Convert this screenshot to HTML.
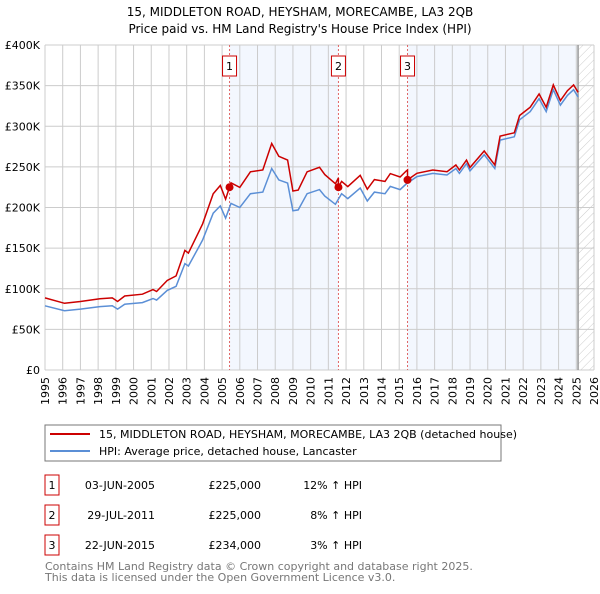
<!DOCTYPE html>
<html><head><meta charset="utf-8"><style>
body{margin:0;background:#fff;font-family:"DejaVu Sans","Liberation Sans",sans-serif;}
svg text{font-family:"DejaVu Sans","Liberation Sans",sans-serif;}
</style></head><body>
<svg id="c" width="600" height="590" xmlns="http://www.w3.org/2000/svg">
<defs><pattern id="hatch" width="6" height="6" patternUnits="userSpaceOnUse" patternTransform="rotate(45)"><line x1="0" y1="0" x2="0" y2="6" stroke="#ccc" stroke-width="1"/></pattern></defs>
<text x="300" y="16" text-anchor="middle" font-size="12">15, MIDDLETON ROAD, HEYSHAM, MORECAMBE, LA3 2QB</text>
<text x="300" y="33" text-anchor="middle" font-size="12">Price paid vs. HM Land Registry's House Price Index (HPI)</text>
<g id="plot"></g>
<rect x="45" y="425" width="456" height="36" fill="#fff" stroke="#777"/>
<line x1="50" y1="434" x2="90" y2="434" stroke="#cc0000" stroke-width="2"/>
<text x="99" y="438" font-size="11">15, MIDDLETON ROAD, HEYSHAM, MORECAMBE, LA3 2QB (detached house)</text>
<line x1="50" y1="451" x2="90" y2="451" stroke="#5b8fd6" stroke-width="2"/>
<text x="99" y="455" font-size="11">HPI: Average price, detached house, Lancaster</text>
<g id="table" font-size="11"></g>
<text x="45" y="570" font-size="11" fill="#777">Contains HM Land Registry data © Crown copyright and database right 2025.</text>
<text x="45" y="581" font-size="11" fill="#777">This data is licensed under the Open Government Licence v3.0.</text>
</svg>
<script>
const hpiYears=[1995,1996.1,1997,1998.1,1998.8,1999.1,1999.5,2000.5,2001.1,2001.3,2001.9,2002.4,2002.9,2003.1,2003.7,2003.9,2004.5,2004.9,2005.2,2005.5,2006,2006.6,2007.3,2007.8,2008.2,2008.7,2009,2009.3,2009.8,2010.5,2010.8,2011.4,2011.75,2012.1,2012.8,2013.2,2013.6,2014.2,2014.5,2015.05,2015.4,2016,2016.9,2017.7,2018.2,2018.4,2018.8,2019,2019.8,2020.4,2020.7,2021.5,2021.8,2022.4,2022.9,2023.3,2023.7,2024.1,2024.5,2024.85,2025.1];
const hpiValues=[79,73,75,78,79,75,81,83,88,86,98,103,131,128,152,160,193,202,187,205,200,217,219,248,234,230,196,197,217,222,214,204,217,211,224,208,219,217,226,222,229,238,242,240,248,242,254,245,265,248,283,287,308,318,334,318,345,326,338,345,336];
const saleYears=[2005.42,2011.57,2015.47];
const salePrices=[225,225,234];
const saleLabels=["1","2","3"];
const saleDates=["03-JUN-2005","29-JUL-2011","22-JUN-2015"];
const salePriceText=["£225,000","£225,000","£234,000"];
const saleHpiText=["12% ↑ HPI","8% ↑ HPI","3% ↑ HPI"];
const yTicks=[0,50,100,150,200,250,300,350,400];
const yTickLabels=["£0","£50K","£100K","£150K","£200K","£250K","£300K","£350K","£400K"];
const xTicks=[];for(let y=1995;y<=2026;y++)xTicks.push(y);

const L=45,R=594,T=45,B=370,NS="http://www.w3.org/2000/svg";
const xs=y=>L+(y-1995)/(2026-1995)*(R-L);
const ys=v=>B-v/400*(B-T);
const g=document.getElementById('plot');
function mk(tag,at,parent){const e=document.createElementNS(NS,tag);for(const k in at)e.setAttribute(k,at[k]);(parent||g).appendChild(e);return e;}
function hpiAt(t){if(t<=hpiYears[0])return hpiValues[0];for(let i=1;i<hpiYears.length;i++){if(t<=hpiYears[i]){const f=(t-hpiYears[i-1])/(hpiYears[i]-hpiYears[i-1]);return hpiValues[i-1]+f*(hpiValues[i]-hpiValues[i-1]);}}return hpiValues[hpiValues.length-1];}
const lastYear=hpiYears[hpiYears.length-1];
// shading
let e=mk('rect',{x:xs(saleYears[0]),y:T,width:xs(saleYears[1])-xs(saleYears[0]),height:B-T,fill:'#f3f7fe'});

e=mk('rect',{x:xs(saleYears[2]),y:T,width:xs(lastYear)-xs(saleYears[2]),height:B-T,fill:'#f3f7fe'});

e=mk('rect',{x:xs(lastYear),y:T,width:R-xs(lastYear),height:B-T,fill:'url(#hatch)'});

// grid
yTicks.forEach((v,i)=>{
 let l=mk('line',{x1:L,x2:R,y1:ys(v),y2:ys(v),stroke:'#ccc'});
 
 let t=mk('text',{x:40,y:ys(v)+4,'text-anchor':'end','font-size':11});t.textContent=yTickLabels[i];
 
});
xTicks.forEach(y=>{
 let l=mk('line',{x1:xs(y),x2:xs(y),y1:T,y2:B,stroke:'#ccc'});
 
 let t=mk('text',{x:xs(y)+4,y:377,'text-anchor':'end','font-size':11,transform:`rotate(-90 ${xs(y)+4} 377)`});t.textContent=y;
 
});
e=mk('line',{x1:xs(lastYear),x2:xs(lastYear),y1:T,y2:B,stroke:'#999','stroke-width':1.5});

// sale markers lines
saleYears.forEach((s,i)=>{
 let l=mk('line',{x1:xs(s),x2:xs(s),y1:T,y2:B,stroke:'#e06666','stroke-dasharray':'2,2'});
 
 let r=mk('rect',{x:xs(s)-7,y:56,width:14,height:20,fill:'#fff',stroke:'#cc0000'});
 
 let t=mk('text',{x:xs(s),y:70,'text-anchor':'middle','font-size':11});t.textContent=saleLabels[i];
 
});
// lines
const hp=hpiYears.map((y,i)=>xs(y).toFixed(1)+','+ys(hpiValues[i]).toFixed(1)).join(' ');
e=mk('polyline',{points:hp,fill:'none',stroke:'#5b8fd6','stroke-width':1.5});

function ratioAt(t){let k=0;for(let i=0;i<saleYears.length;i++)if(t>=saleYears[i])k=i;return salePrices[k]/hpiAt(saleYears[k]);}
const redPts=[];
const allT=hpiYears.concat(saleYears).sort((a,b)=>a-b);
allT.forEach(t=>{
 const si=saleYears.indexOf(t);
 if(si>0){redPts.push([t,hpiAt(t)*salePrices[si-1]/hpiAt(saleYears[si-1])]);}
 redPts.push([t,hpiAt(t)*ratioAt(t)]);
});
e=mk('polyline',{points:redPts.map(p=>xs(p[0]).toFixed(1)+','+ys(p[1]).toFixed(1)).join(' '),fill:'none',stroke:'#cc0000','stroke-width':1.5});

saleYears.forEach((s,i)=>{
 let c=mk('circle',{cx:xs(s),cy:ys(salePrices[i]),r:4,fill:'#cc0000'});
 
});
// table
const tb=document.getElementById('table');
saleYears.forEach((s,i)=>{
 const y0=475+i*30;
 let r=mk('rect',{x:45,y:y0,width:14,height:20,fill:'#fff',stroke:'#cc0000'},tb);
 
 const cells=[[52,'middle',saleLabels[i]],[155,'end',saleDates[i]],[261,'end',salePriceText[i]],[362,'end',saleHpiText[i]]];
 cells.forEach(c=>{let t=mk('text',{x:c[0],y:y0+14,'text-anchor':c[1]},tb);t.textContent=c[2];
  });
});
</script>
</body></html>
